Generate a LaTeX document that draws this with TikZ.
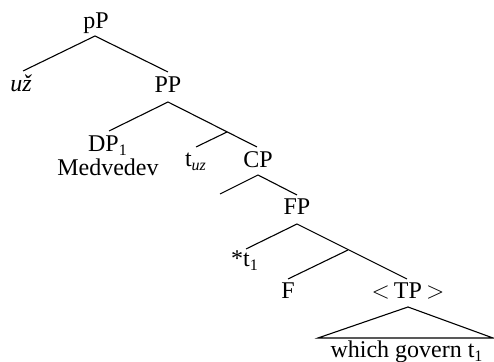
\documentclass[tikz,border=0pt]{standalone}
\usepackage{fontspec}
\setmainfont{Liberation Serif}
\begin{document}
\begin{tikzpicture}[x=0.5pt,y=-0.5pt,
  lbl/.style={anchor=base,inner sep=0pt,font=\fontsize{12}{14}\selectfont},
  branch/.style={line width=0.55pt}]
\useasboundingbox (0,0) rectangle (494,362);

% labels
\node[lbl] (pP)  at (96,29)  {pP};
\node[lbl] (uz)  at (21,92)  {\itshape už};
\node[lbl] (PP)  at (168,93) {PP};
\node[lbl] (DP)  at (108,152) {DP\textsubscript{1}};
\node[lbl] (Med) at (108,176) {Medvedev};
\node[lbl] (tuz) at (196,167) {t\textsubscript{\itshape uz}};
\node[lbl] (CP)  at (258,168) {CP};
\node[lbl] (FP)  at (297,215) {FP};
\node[lbl] (t1)  at (245,267) {*t\textsubscript{1}};
\node[lbl] (F)   at (288,299) {F};
\node[lbl] (TP)  at (408,299) {$<$\,TP\,$>$};
\node[lbl] (gov) at (407,358) {which govern t\textsubscript{1}};

% attachment points of the branches
\coordinate (pP-f) at (95,36);
\coordinate (uz-h) at (23,71);
\coordinate (PP-h) at (168,72);
\coordinate (PP-f) at (168,102);
\coordinate (DP-h) at (109,131);
\coordinate (Pbar) at (227,132);
\coordinate (tuz-h) at (196,147);
\coordinate (CP-h) at (257,147);
\coordinate (CP-f) at (258,175);
\coordinate (spec) at (220,194);
\coordinate (FP-h) at (297,195);
\coordinate (FP-f) at (297,224);
\coordinate (t1-h) at (246,249);
\coordinate (Fbar) at (348,250);
\coordinate (F-h)  at (288,279);
\coordinate (TP-h) at (407,279);
\coordinate (TP-f) at (408,307);
\coordinate (triL) at (318,338);
\coordinate (triR) at (493,338);

% branches
\draw[branch] (uz-h) -- (pP-f) -- (PP-h);
\draw[branch] (DP-h) -- (PP-f) -- (CP-h);
\draw[branch] (tuz-h) -- (Pbar);
\draw[branch] (spec) -- (CP-f) -- (FP-h);
\draw[branch] (t1-h) -- (FP-f) -- (TP-h);
\draw[branch] (F-h) -- (Fbar);
\draw[branch] (triL) -- (TP-f) -- (triR) -- cycle;
\end{tikzpicture}
\end{document}
